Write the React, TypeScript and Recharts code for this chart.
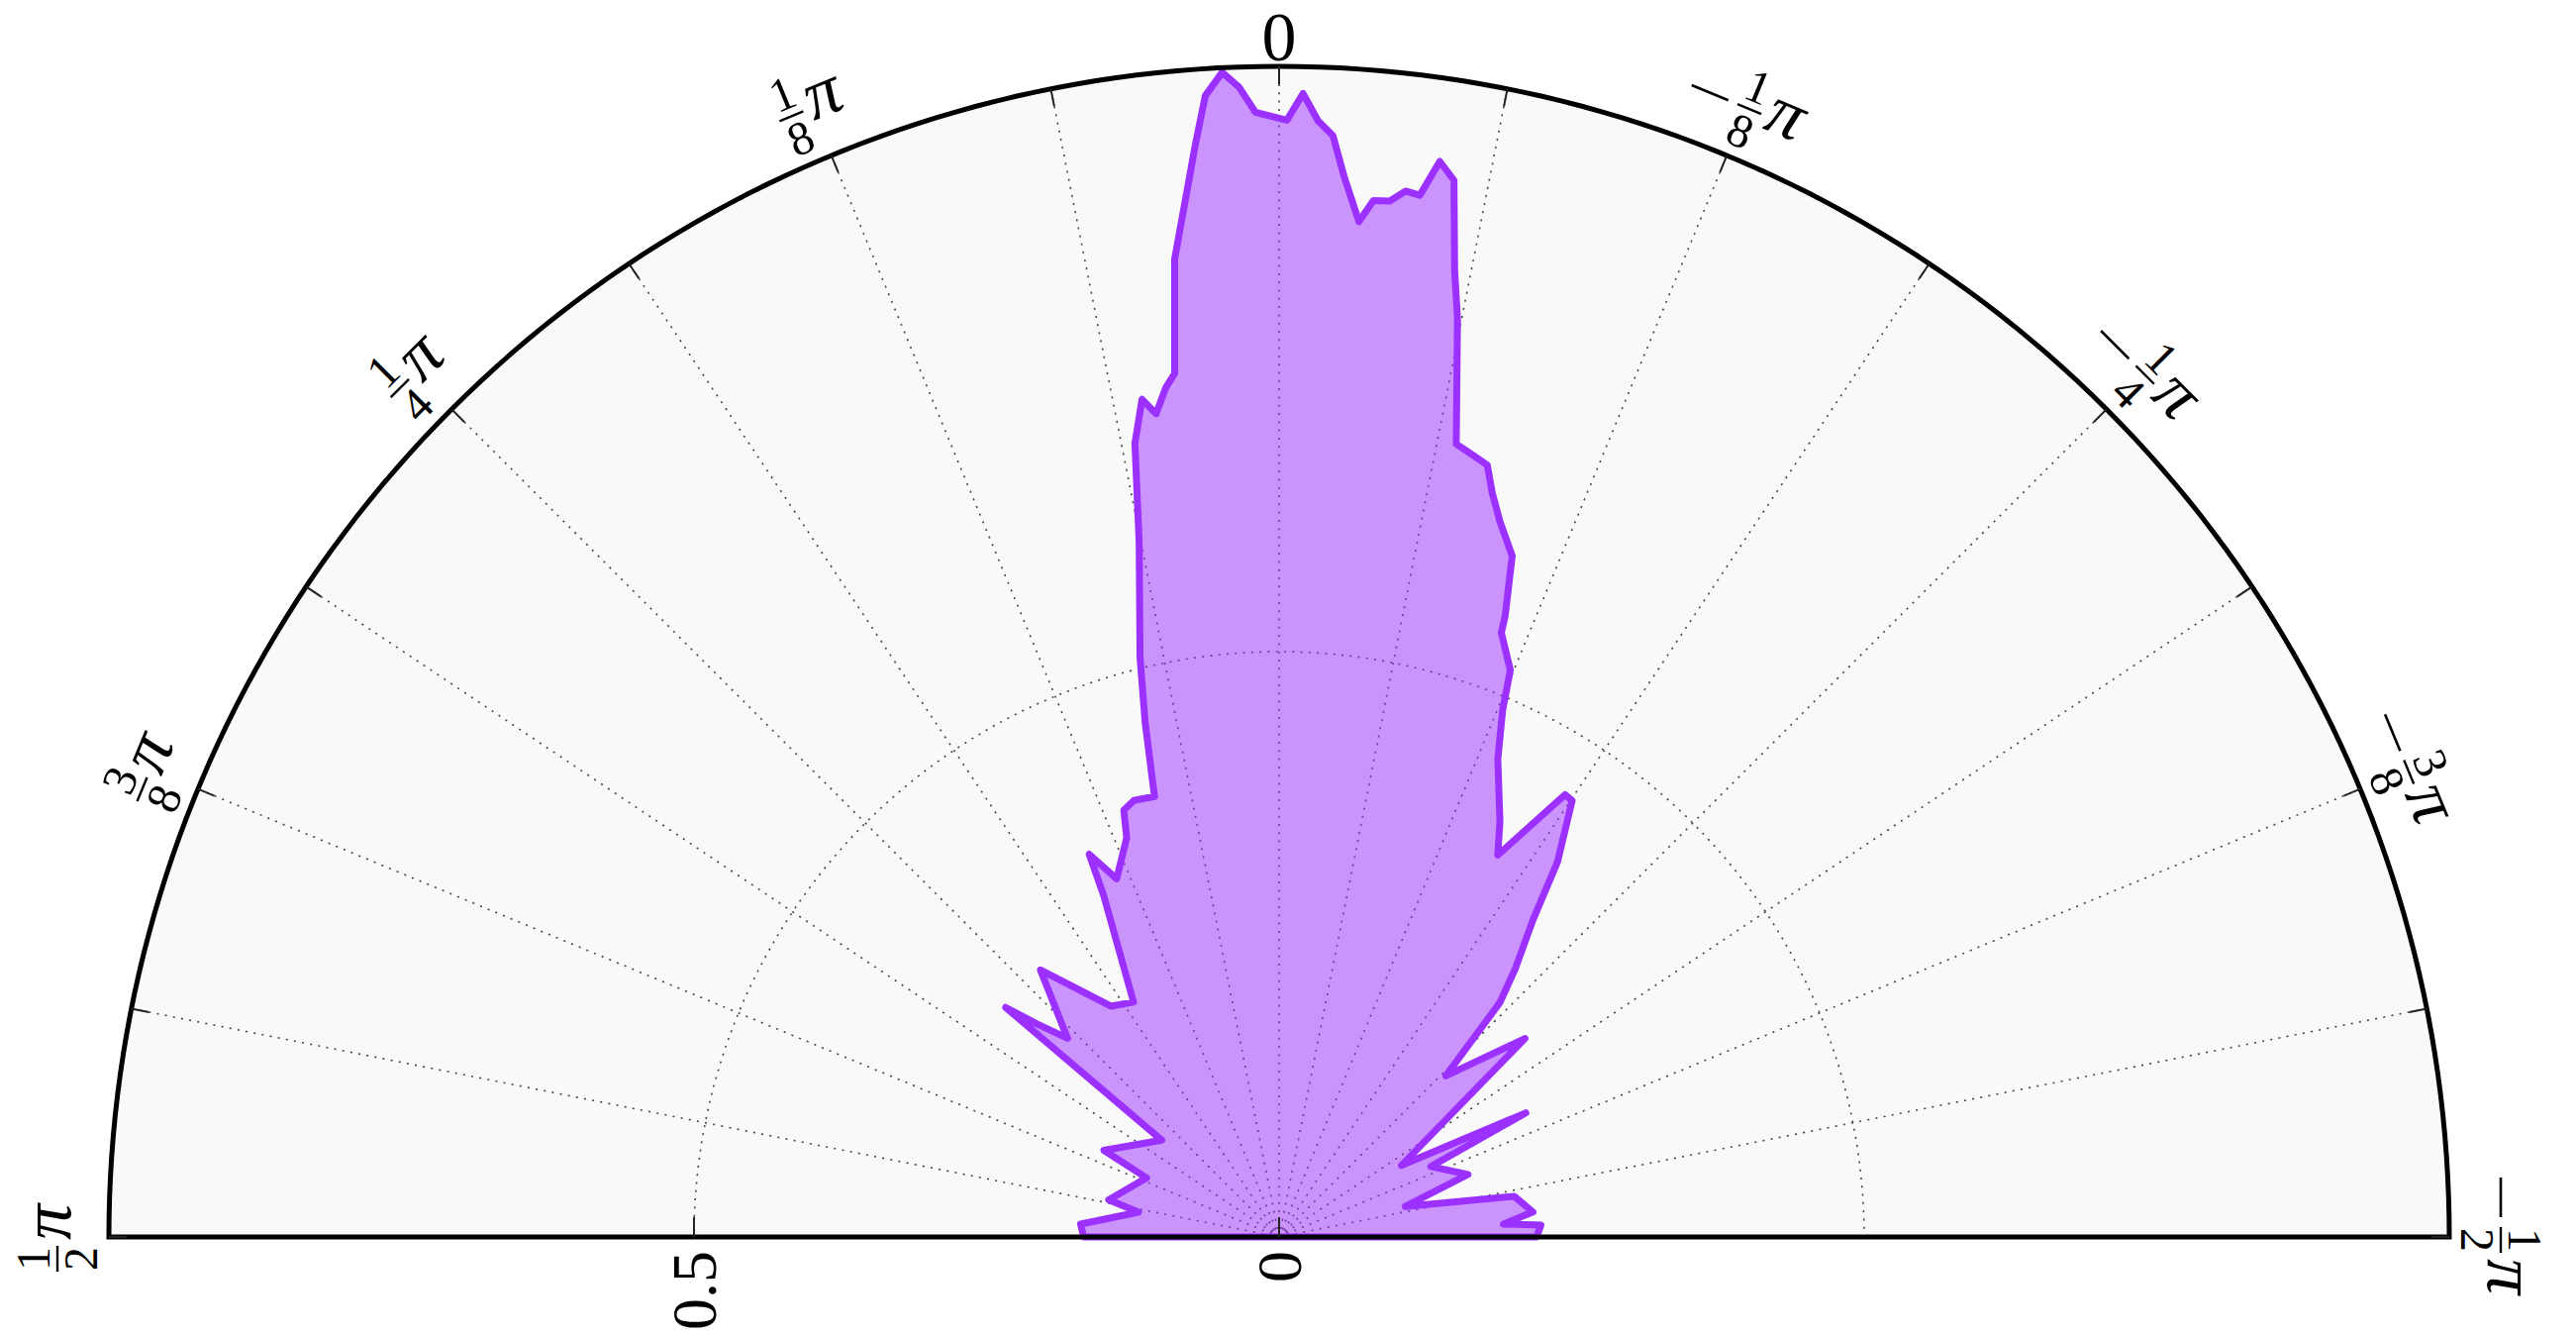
import React from 'react';
import { RadarChart, Radar, PolarGrid, PolarAngleAxis, PolarRadiusAxis } from 'recharts';

const WIDTH = 2602;
const HEIGHT = 1349;
const CX = 1292;
const CY = 1249;
const OUTER = 1182;
const FONT = "'Liberation Serif', 'DejaVu Serif', serif";

// outline vertices: angle in degrees from the top (positive = to the left), radius on a 0..1 axis
const theta = [
  -90.0, -87.4, -86.7, -84.4, -80.2, -76.4, -71.7, -65.1, -63.3, -59.7,
  -51.1, -46.0, -43.3, -41.4, -38.7, -36.6, -33.9, -32.9, -29.8, -28.0,
  -24.6, -23.0, -22.2, -20.2, -20.0, -18.9, -17.2, -16.0, -15.1, -13.5,
  -12.6, -11.0, -10.3, -9.4, -8.5, -7.7, -6.9, -6.1, -5.2, -4.5,
  -3.5, -2.8, -2.0, -1.2, -0.4, 1.2, 2.0, 2.8, 3.7, 4.4,
  6.1, 6.9, 7.6, 8.5, 9.3, 10.3, 11.4, 13.5, 14.6, 15.8,
  18.4, 20.0, 20.9, 24.4, 26.4, 27.2, 31.8, 36.1, 41.8, 46.8,
  48.7, 50.0, 50.5, 63.7, 66.0, 77.7, 80.0, 86.3, 90.0,
];
const rValues = [
  0.220, 0.224, 0.192, 0.218, 0.204, 0.111, 0.170, 0.143, 0.236, 0.121,
  0.270, 0.198, 0.275, 0.305, 0.347, 0.399, 0.449, 0.450, 0.376, 0.402,
  0.449, 0.489, 0.523, 0.550, 0.565, 0.615, 0.639, 0.661, 0.683, 0.690,
  0.694, 0.799, 0.839, 0.915, 0.929, 0.898, 0.900, 0.890, 0.889, 0.870,
  0.908, 0.942, 0.954, 0.977, 0.954, 0.961, 0.983, 0.996, 0.977, 0.935,
  0.840, 0.743, 0.732, 0.711, 0.725, 0.689, 0.605, 0.509, 0.454, 0.391,
  0.393, 0.388, 0.365, 0.336, 0.365, 0.328, 0.236, 0.244, 0.306, 0.248,
  0.276, 0.305, 0.130, 0.167, 0.124, 0.149, 0.122, 0.170, 0.167,
];

// dotted spokes every pi/16, labels every pi/8
const spokeTicks = [
  -90, -78.75, -67.5, -56.25, -45, -33.75, -22.5, -11.25, 0,
  11.25, 22.5, 33.75, 45, 56.25, 67.5, 78.75, 90,
];
const labelTicks = [-90, -67.5, -45, -22.5, 0, 22.5, 45, 67.5, 90];
const labelNum = ['1', '3', '1', '1', '0', '1', '1', '3', '1'];
const labelDen = ['2', '8', '4', '8', '', '8', '4', '8', '2'];

const radiusTicks = [0, 0.5, 1];
const radiusLabels = ['0', '0.5', ''];

// rim samples so the frame and the dotted rings come out round
const rimTheta = Array.from({ length: 181 }, (_, i) => i - 90);
const ringAngles = Array.from({ length: 181 }, (_, i) => i);

const shapeData = theta.map((t, i) => ({ theta: t, r: rValues[i] }));
const rimData = rimTheta.map((t) => ({ theta: t, rim: 1 }));

const AngleTick = (props: any) => {
  const { payload } = props;
  const a = payload.coordinate;
  const rad = (a * Math.PI) / 180;
  const cos = Math.cos(rad);
  const sin = Math.sin(rad);
  const idx = labelTicks.indexOf(payload.value);

  let label = null;
  if (idx >= 0) {
    const num = labelNum[idx];
    const den = labelDen[idx];
    const neg = payload.value < 0;
    if (den === '') {
      const lx = CX + (OUTER + 30) * cos;
      const ly = CY - (OUTER + 30) * sin;
      label = (
        <text x={lx} y={ly} textAnchor="middle" dominantBaseline="central" fontSize={70} fontFamily={FONT} fill="#000">
          {num}
        </text>
      );
    } else {
      const lx = CX + (OUTER + 52) * cos;
      const ly = CY - (OUTER + 52) * sin;
      const barW = 26;
      const total = (neg ? 50 : 0) + barW + 6 + 38;
      let x0 = -total / 2;
      const parts = [];
      if (neg) {
        parts.push(<line key="m" x1={x0} y1={0} x2={x0 + 40} y2={0} stroke="#000" strokeWidth={2.6} />);
        x0 += 50;
      }
      parts.push(
        <text key="n" x={x0 + barW / 2} y={-8} textAnchor="middle" fontSize={48} fontFamily={FONT} fill="#000">{num}</text>,
        <line key="b" x1={x0} y1={0} x2={x0 + barW} y2={0} stroke="#000" strokeWidth={2.4} />,
        <text key="d" x={x0 + barW / 2} y={40} textAnchor="middle" fontSize={48} fontFamily={FONT} fill="#000">{den}</text>,
        <text key="p" x={x0 + barW + 6} y={13} textAnchor="start" fontSize={72} fontStyle="italic" fontFamily={FONT} fill="#000">π</text>,
      );
      label = <g transform={`translate(${lx},${ly}) rotate(${90 - a})`}>{parts}</g>;
    }
  }

  return (
    <g>
      <line
        x1={CX + OUTER * cos}
        y1={CY - OUTER * sin}
        x2={CX + (OUTER - 18) * cos}
        y2={CY - (OUTER - 18) * sin}
        stroke="#222"
        strokeWidth={2}
      />
      {label}
    </g>
  );
};

const RadiusTick = (props: any) => {
  const { x, payload } = props;
  const idx = radiusTicks.indexOf(payload.value);
  const text = idx >= 0 ? radiusLabels[idx] : '';
  if (!text) return <g />;
  const ty = CY + 14;
  return (
    <g>
      <line x1={x} y1={CY} x2={x} y2={CY - 20} stroke="#222" strokeWidth={2} />
      <text
        x={x}
        y={ty}
        transform={`rotate(-90 ${x} ${ty})`}
        textAnchor="end"
        dominantBaseline="central"
        fontSize={64}
        fontFamily={FONT}
        fill="#000"
      >
        {text}
      </text>
    </g>
  );
};

const layer: React.CSSProperties = { position: 'absolute', left: 0, top: 0 };

const polarProps = {
  width: WIDTH,
  height: HEIGHT,
  cx: CX,
  cy: CY,
  innerRadius: 0,
  outerRadius: OUTER,
  startAngle: 0,
  endAngle: 180,
  margin: { top: 0, right: 0, bottom: 0, left: 0 },
};

export default function App() {
  return (
    <div style={{ position: 'absolute', left: 0, top: 0, width: WIDTH, height: HEIGHT, background: '#fff', overflow: 'hidden' }}>
      {/* back: light face of the half disc */}
      <div style={layer}>
        <RadarChart {...polarProps} data={rimData}>
          <PolarAngleAxis dataKey="theta" type="number" domain={[-90, 90]} ticks={spokeTicks} tick={false} tickLine={false} axisLine={false} />
          <PolarRadiusAxis angle={180} type="number" domain={[0, 1]} tick={false} axisLine={false} />
          <Radar dataKey="rim" stroke="none" fill="#f9f9f9" fillOpacity={1} dot={false} isAnimationActive={false} />
        </RadarChart>
      </div>

      {/* middle: dotted grid and the data */}
      <div style={layer}>
        <RadarChart {...polarProps} data={shapeData}>
          <PolarGrid
            gridType="polygon"
            radialLines={false}
            polarAngles={ringAngles}
            stroke="#444"
            strokeWidth={1.6}
            strokeDasharray="2 6.3"
          />
          <PolarGrid
            gridType="polygon"
            radialLines
            polarRadius={[]}
            stroke="#444"
            strokeWidth={1.6}
            strokeDasharray="2 6.3"
          />
          <PolarAngleAxis dataKey="theta" type="number" domain={[-90, 90]} ticks={spokeTicks} tick={false} tickLine={false} axisLine={false} />
          <PolarRadiusAxis angle={180} type="number" domain={[0, 1]} ticks={radiusTicks} tick={false} axisLine={false} />
          <Radar
            dataKey="r"
            stroke="#9b30ff"
            strokeWidth={7}
            strokeLinejoin="round"
            fill="#9b30ff"
            fillOpacity={0.5}
            dot={false}
            isAnimationActive={false}
          />
        </RadarChart>
      </div>

      {/* front: frame, ticks and labels */}
      <div style={layer}>
        <RadarChart {...polarProps} data={rimData}>
          <PolarAngleAxis
            dataKey="theta"
            type="number"
            domain={[-90, 90]}
            ticks={spokeTicks}
            tick={<AngleTick />}
            tickLine={false}
            axisLine={false}
          />
          <PolarRadiusAxis
            angle={180}
            type="number"
            domain={[0, 1]}
            ticks={radiusTicks}
            tick={<RadiusTick />}
            axisLine={false}
          />
          <Radar
            dataKey="rim"
            stroke="#000"
            strokeWidth={5}
            strokeLinejoin="miter"
            fill="none"
            dot={false}
            isAnimationActive={false}
          />
        </RadarChart>
      </div>
    </div>
  );
}
